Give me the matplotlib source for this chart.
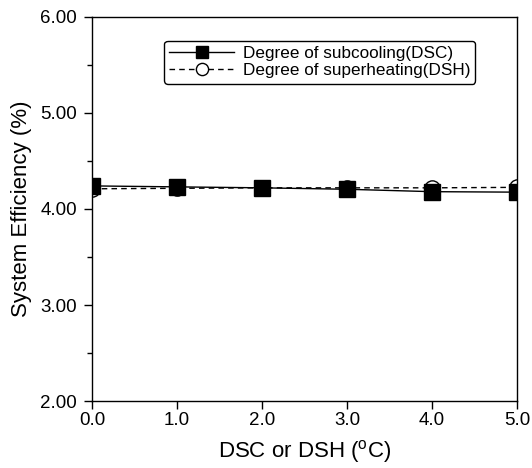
import matplotlib
matplotlib.use('Agg')
import matplotlib.pyplot as plt
from matplotlib.ticker import MultipleLocator, FormatStrFormatter

plt.rcParams['font.family'] = ['Liberation Sans', 'DejaVu Sans']
plt.rcParams['mathtext.fontset'] = 'custom'
plt.rcParams['mathtext.rm'] = 'Liberation Sans'

# degree values (oC)
deg = [0.0, 1.0, 2.0, 3.0, 4.0, 5.0]
# system efficiency (%)
eff_dsc = [4.24, 4.23, 4.22, 4.205, 4.18, 4.175]
eff_dsh = [4.21, 4.215, 4.22, 4.22, 4.22, 4.225]

fig = plt.figure(figsize=(5.32, 4.68), dpi=100)
ax = fig.add_axes([0.173, 0.143, 0.799, 0.821])

ax.plot(deg, eff_dsh, color='black', lw=1.0, ls=(0, (4, 3)), marker='o', ms=11,
        mfc='white', mec='black', mew=1.0, label='Degree of superheating(DSH)', zorder=2)
ax.plot(deg, eff_dsc, '-', color='black', lw=1.0, marker='s', ms=11,
        mfc='black', mec='black', label='Degree of subcooling(DSC)', zorder=3)

ax.set_xlim(0, 5)
ax.set_ylim(2, 6)
ax.xaxis.set_major_locator(MultipleLocator(1))
ax.yaxis.set_major_locator(MultipleLocator(1))
ax.yaxis.set_minor_locator(MultipleLocator(0.5))
ax.xaxis.set_major_formatter(FormatStrFormatter('%.1f'))
ax.yaxis.set_major_formatter(FormatStrFormatter('%.2f'))
ax.tick_params(axis='both', which='major', direction='out', length=6, width=1,
               labelsize=13.5, top=False, right=False)
ax.tick_params(axis='x', which='major', pad=2)
ax.tick_params(axis='y', which='major', pad=5)
ax.tick_params(axis='y', which='minor', direction='out', length=3.5, width=1)
for s in ax.spines.values():
    s.set_linewidth(1.0)

ax.set_xlabel(r'DSC or DSH ($^{\mathrm{o}}$C)', fontsize=16, labelpad=6)
ax.set_ylabel('System Efficiency (%)', fontsize=16, labelpad=6)

h, l = ax.get_legend_handles_labels()
leg = ax.legend(h[::-1], l[::-1], loc='upper right', bbox_to_anchor=(0.922, 0.96),
                fontsize=12.3, handlelength=3.8, markerscale=0.8, frameon=True,
                fancybox=True, borderpad=0.3, labelspacing=0.15, handletextpad=0.5)
leg.get_frame().set_edgecolor('black')
leg.get_frame().set_linewidth(1.0)
leg.get_frame().set_alpha(1)

fig.savefig('out.png', dpi=100)
